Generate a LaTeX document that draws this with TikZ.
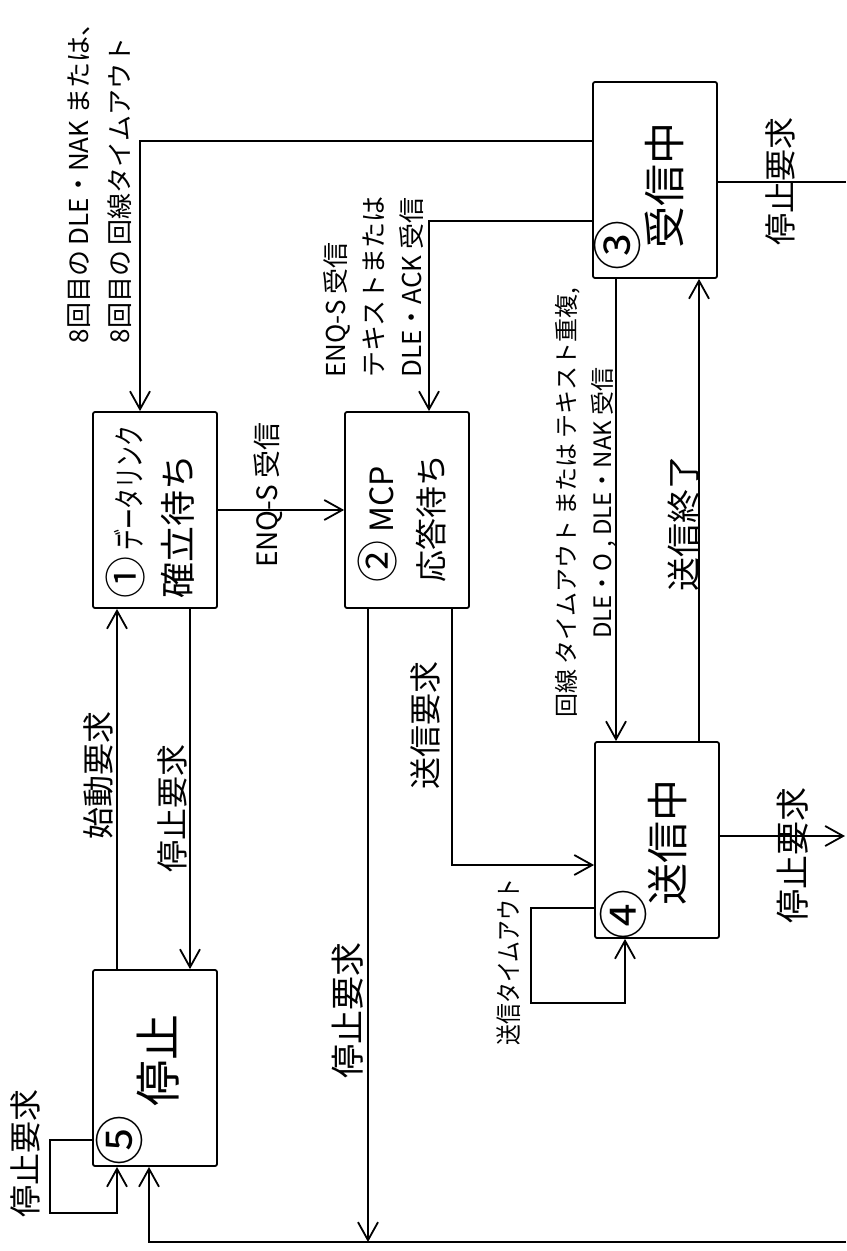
\documentclass[tikz,border=0pt]{standalone}
\usepackage{fontspec}
\usepackage{graphicx}
\setmainfont{Noto Sans CJK JP}
\usetikzlibrary{arrows.meta}

\newcommand{\circnum}[1]{{\fontsize{21}{21}\selectfont #1}}

\begin{document}
\begin{tikzpicture}[x=0.5pt,y=-0.5pt,line width=0.9pt,
    box/.style={draw, rounded corners=1pt, minimum width=62pt, minimum height=98pt, inner sep=0pt},
    arr/.style={-{Straight Barb[length=9pt,width=10pt,line width=0.9pt]}},
    lbl/.style={rotate=90, inner sep=0pt, align=left, font=\fontsize{13}{20}\selectfont},
    req/.style={lbl, font=\fontsize{16}{19}\selectfont},
    big/.style={rotate=90, inner sep=0pt, font=\fontsize{21}{24}\selectfont},
    num/.style={rotate=90, inner sep=0pt, font=\fontsize{25}{26}\selectfont}]

    \useasboundingbox (0,0) rectangle (846,1251);
    \fill[white] (0,0) rectangle (846,1251);

    % Blocchi
    \node[box] (b1) at (155,510) {};
    \node[box] (b2) at (407,510) {};
    \node[box] (b3) at (655,180) {};
    \node[box] (b4) at (657,840) {};
    \node[box] (b5) at (155,1068) {};

    % Testi dei blocchi
    \node[lbl, font=\fontsize{16}{25}\selectfont] (t1) at (150,512) {\circnum{①}\,\scalebox{0.65}[1]{データリンク}\\{\fontsize{18}{18}\selectfont 確立待ち}};
    \node[lbl, font=\fontsize{16}{25}\selectfont] (t2) at (402,518) {\circnum{②} MCP\\応答待ち};
    \node[num] (n3) at (617,246) {③};
    \node[big] (t3) at (664,186) {受信中};
    \node[num] (n4) at (623,914) {④};
    \node[big] (t4) at (668,842) {送信中};
    \node[num] (n5) at (119,1140) {⑤};
    \node[big, font=\fontsize{23}{26}\selectfont] (t5) at (158,1060) {停止};

    % Bordo destro
    \coordinate (r1) at (846,182);
    \coordinate (r2) at (845,836);
    \coordinate (r3) at (846,1242);

    % Frecce
    \draw[arr] (b3.west |- 0,141) -| (b1.north -| 140,0);
    \draw[arr] (b3.west |- 0,221) -| (b2.north -| 429,0);
    \draw[arr] (b1.east) -- (b2.west);
    \draw[arr] (b5.north -| 117,0) -- (b1.south -| 117,0);
    \draw[arr] (b1.south -| 190,0) -- (b5.north -| 190,0);
    \draw[arr] (b2.south -| 368,0) -- (r3 -| 368,0);
    \draw[arr] (r3) -| (b5.south -| 149,0);
    \draw[arr] (b2.south -| 452,0) |- (b4.west |- 0,865);
    \draw[arr] (b3.south -| 616,0) -- (b4.north -| 616,0);
    \draw[arr] (b4.north -| 699,0) -- (b3.south -| 699,0);
    \draw[arr] (b4.west |- 0,908) -| (531,1003) -| (b4.south -| 625,0);
    \draw[arr] (b5.west |- 0,1140) -| (50,1213) -| (b5.south -| 117,0);
    \draw (b3.east |- 0,182) -- (r1);
    \draw[arr] (b4.east |- 0,836) -- (r2);

    % Etichette
    \node[lbl, font=\fontsize{13}{20.5}\selectfont] (l1) at (100,177) {8回目の DLE・NAK または、\\8回目の 回線タイムアウト};
    \node[lbl, font=\fontsize{13}{19}\selectfont] (l2) at (374,287) {ENQ-S 受信\\テキストまたは\\DLE・ACK 受信};
    \node[lbl, font=\fontsize{14}{17}\selectfont] (l3) at (268,495) {ENQ-S 受信};
    \node[req] (l4) at (98,775) {始動要求};
    \node[req] (l5) at (172,808) {停止要求};
    \node[req, font=\fontsize{17}{20}\selectfont] (l6) at (348,1010) {停止要求};
    \node[req] (l7) at (425,725) {送信要求};
    \node[lbl, align=center, font=\fontsize{12}{18}\selectfont] (l8) at (586,503) {回線 タイムアウト または テキスト重複,\\DLE・O , DLE・NAK 受信};
    \node[req, font=\fontsize{17}{20}\selectfont] (l9) at (684,523) {送信終了};
    \node[lbl, font=\fontsize{13}{15}\selectfont] (l10) at (509,962) {\scalebox{0.8}[1]{送信タイムアウト}};
    \node[req] (l11) at (25,1153) {停止要求};
    \node[req] (l12) at (780,182) {停止要求};
    \node[req, font=\fontsize{17}{20}\selectfont] (l13) at (793,855) {停止要求};

\end{tikzpicture}
\end{document}
